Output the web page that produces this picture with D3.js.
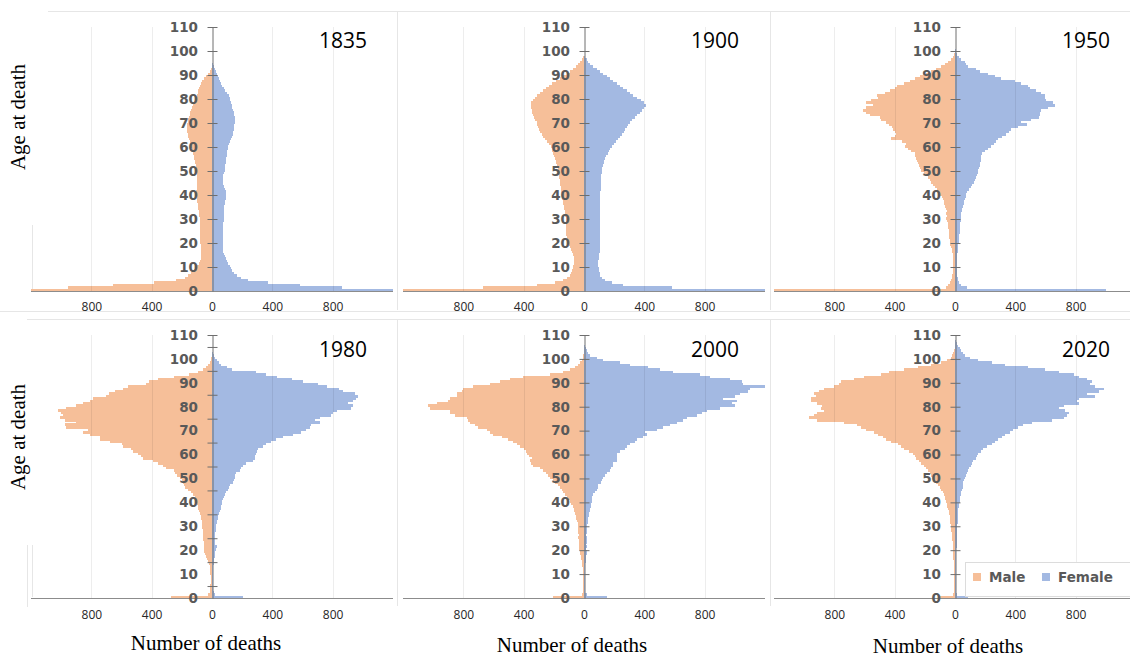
<!DOCTYPE html>
<html>
<head>
<meta charset="utf-8">
<script src="https://cdn.jsdelivr.net/npm/d3@7"></script>
<style>
    body { margin: 0; background: #fff; }
    svg { display: block; }
</style>
</head>
<body>
<div id="chart"></div>
<script>
// Data definition: deaths by single year of age, index = age
const years = ["1835", "1900", "1950", "1980", "2000", "2020"];

const male1835 = [1500,955,656,387,236,181,158,137,122,110,
    100,85,78,74,71,71,72,73,75,76,
    77,78,79,80,81,82,82,82,82,82,
    82,84,86,88,91,93,96,98,100,102,
    104,103,102,100,99,99,99,100,101,102,
    104,106,108,111,114,118,121,125,129,133,
    137,142,147,152,157,161,164,165,165,163,
    160,157,153,148,143,137,131,125,118,111,
    104,100,95,90,85,80,72,63,52,40,
    28,16,8,3];
const female1835 = [1400,864,581,371,239,190,165,148,135,125,
    117,108,99,91,84,79,75,72,70,70,
    71,72,72,73,73,74,75,76,76,77,
    77,77,78,78,79,80,83,87,91,94,
    95,92,87,81,76,73,73,74,76,80,
    84,86,88,90,93,95,97,99,101,103,
    106,112,118,125,131,136,140,144,147,149,
    150,151,150,147,143,139,135,131,126,121,
    117,110,100,89,77,65,58,51,44,37,
    30,24,18,12,7,3];

const male1900 = [1500,667,314,192,140,110,95,85,78,73,
    70,67,66,66,68,72,77,83,90,97,
    104,110,115,118,120,120,119,118,118,119,
    121,123,126,128,131,134,137,140,143,146,
    148,150,152,154,156,159,161,163,166,168,
    170,174,178,183,187,192,197,203,209,215,
    221,232,245,258,270,281,290,298,304,309,
    314,322,330,337,343,347,350,352,350,340,
    325,310,295,275,255,235,210,185,160,138,
    115,95,75,55,38,26,14,6];
const female1900 = [1400,581,261,183,139,117,108,103,100,97,
    95,95,96,97,99,101,103,105,107,108,
    108,108,107,105,104,104,105,106,107,108,
    108,107,106,105,104,104,105,106,107,108,
    108,109,110,111,112,113,114,115,116,117,
    118,121,125,130,135,140,148,156,165,174,
    183,196,209,223,237,250,262,273,284,295,
    305,320,336,352,368,382,396,408,400,378,
    350,328,305,282,260,239,216,194,172,150,
    128,106,84,62,42,28,18,8,3];

const male1950 = [1500,57,45,35,28,22,18,15,13,12,
    11,11,11,12,13,15,18,22,26,30,
    33,35,37,38,40,42,44,46,48,52,
    57,55,58,55,62,68,72,76,80,86,
    102,108,120,132,145,157,168,180,190,205,
    223,232,240,245,250,256,262,268,290,312,
    334,328,350,422,395,389,400,411,418,440,
    455,488,500,566,588,610,588,544,588,555,
    510,520,466,430,400,385,340,300,265,230,
    195,160,125,95,65,45,28,15,8,3];
const female1950 = [1003,82,42,28,22,18,15,13,12,12,
    12,12,13,14,15,16,17,19,21,23,
    24,25,27,28,30,31,33,34,36,37,
    38,40,43,46,49,53,57,60,64,70,
    75,82,92,103,115,126,135,142,148,150,
    152,158,163,168,172,175,172,178,196,218,
    241,258,274,285,310,340,355,373,417,480,
    440,506,555,561,565,572,616,660,649,605,
    594,598,572,539,495,484,440,395,307,263,
    219,163,140,86,75,64,42,25,15,9,
    4];

const male1980 = [270,27,14,12,10,10,9,9,9,9,
    10,10,12,14,18,24,32,40,48,52,
    55,53,52,54,57,60,58,60,62,63,
    64,66,68,72,76,82,86,90,93,98,
    104,110,116,125,137,159,181,185,190,200,
    214,230,247,255,303,325,358,391,457,470,
    490,524,535,590,600,678,745,740,811,855,
    822,966,977,900,977,1010,988,1000,1021,966,
    900,855,811,789,700,680,640,590,560,440,
    420,360,250,150,90,60,40,25,15,8,
    4];
const female1980 = [206,18,10,8,7,7,6,6,6,6,
    6,7,7,8,10,14,16,18,20,22,
    24,30,22,20,18,18,20,22,24,26,
    29,32,35,40,43,46,52,57,62,65,
    69,72,77,86,95,106,110,117,139,145,
    150,155,161,183,190,206,228,272,283,287,
    290,298,305,338,360,393,427,471,537,592,
    625,648,659,714,681,714,791,802,830,920,
    935,900,935,957,968,950,870,840,760,700,
    600,530,430,360,290,130,100,62,45,30,
    18,10,5];

const male2000 = [208,15,9,8,7,7,7,7,7,7,
    8,8,9,10,12,15,18,22,26,28,
    31,30,31,33,35,38,36,38,38,37,
    38,42,49,52,56,60,63,66,75,84,
    93,104,115,126,137,148,160,175,190,208,
    227,240,255,270,290,340,350,355,345,365,
    375,385,400,425,445,470,502,546,601,623,
    645,700,723,756,767,778,855,888,888,1021,
    1033,977,900,888,844,844,811,800,734,623,
    557,491,402,225,137,93,60,38,25,15,
    9,4];
const female2000 = [150,18,8,7,6,6,6,6,6,6,
    6,7,7,8,9,12,14,16,18,17,
    16,18,15,17,20,18,16,22,20,18,
    22,24,26,29,32,35,38,40,44,48,
    51,52,54,62,72,84,90,95,110,118,
    128,138,150,172,180,190,195,216,218,220,
    221,239,272,283,305,338,349,393,415,404,
    482,526,570,614,659,681,747,780,813,901,
    1001,979,1012,923,1001,1034,1089,1100,1250,1056,
    1045,968,835,769,592,504,426,305,239,128,
    84,40,29,18,10,5];

const male2020 = [102,13,7,6,5,5,5,5,5,5,
    5,5,6,6,7,9,10,12,13,14,
    14,15,16,16,18,20,21,23,24,27,
    29,30,31,34,36,40,43,47,50,54,
    58,63,69,74,80,91,102,113,124,136,
    147,158,169,180,193,207,224,236,258,268,
    280,302,336,358,380,424,458,480,513,536,
    591,624,647,736,913,969,936,913,869,891,
    880,913,958,958,924,936,902,869,802,769,
    758,669,602,491,436,336,247,158,91,51,
    29,18,10,5];
const female2020 = [87,16,7,6,5,5,5,5,5,5,
    5,5,5,6,6,7,7,8,8,9,
    9,10,10,11,11,12,12,13,14,15,
    16,17,17,18,19,20,21,23,24,27,
    31,33,35,38,42,47,50,53,56,60,
    64,71,78,84,91,104,112,120,136,144,
    153,170,187,209,242,264,287,309,331,364,
    387,420,453,509,642,720,742,753,731,687,
    720,820,809,820,931,876,953,987,931,898,
    909,876,820,787,687,598,487,331,242,153,
    98,64,53,42,31,20,12,6];

const maleSeries = [male1835, male1900, male1950, male1980, male2000, male2020];
const femaleSeries = [female1835, female1900, female1950, female1980, female2000, female2020];

// Tick labels
const deathTicks = [-800, -400, 0, 400, 800];
const ageTicks = [0, 10, 20, 30, 40, 50, 60, 70, 80, 90, 100, 110];
const ageTickMarks1980 = [5, 15, 25, 35, 45, 55, 65, 75, 85, 95, 105, 110];
const legendLabels = ["Male", "Female"];

function onDOMContentLoaded() {
    // SVG Props
    const width = 1130,
        height = 658;
    const colors = { male: "#F6BF99", female: "#A3B9E2" };
    const columns = [212, 584, 955];
    const rows = [
        { top: 27, bottom: 291, labelY: 307, titleY: 48 },
        { top: 335, bottom: 598, labelY: 615, titleY: 357 }
    ];
    const halfWidth = 181;

    const svg = d3.select("#chart")
        .append("svg")
        .attr("width", width)
        .attr("height", height);

    // faint frame lines of the original composite
    const frame = svg.append("g")
        .attr("stroke", "#e6e6e6")
        .attr("stroke-width", 1);
    [[48, 11.5, 1130, 11.5], [0, 311.5, 1130, 311.5], [27, 319.5, 1130, 319.5],
     [397.5, 12, 397.5, 310], [770.5, 12, 770.5, 310],
     [397.5, 320, 397.5, 606], [770.5, 320, 770.5, 606],
     [32.5, 225, 32.5, 290], [27.5, 545, 27.5, 607], [32.5, 545, 32.5, 597]]
        .forEach(l => frame.append("line")
            .attr("x1", l[0]).attr("y1", l[1]).attr("x2", l[2]).attr("y2", l[3]));

    years.forEach((year, i) => {
        const cx = columns[i % 3];
        const row = rows[Math.floor(i / 3)];

        const xScale = d3.scaleLinear()
            .domain([-1200, 1200])
            .range([cx - halfWidth, cx + halfWidth]);
        const yScale = d3.scaleLinear()
            .domain([0, 110])
            .range([row.bottom, row.top]);

        const panel = svg.append("g").attr("class", "panel");

        svg.append("clipPath")
            .attr("id", "clip" + i)
            .append("rect")
            .attr("x", xScale.range()[0])
            .attr("y", row.top - 5)
            .attr("width", xScale.range()[1] - xScale.range()[0])
            .attr("height", row.bottom - row.top + 5);

        const bars = panel.append("g")
            .attr("clip-path", `url(#clip${i})`)
            .attr("shape-rendering", "crispEdges");

        const male = maleSeries[i].map((v, age) => ({ age, v }));
        const female = femaleSeries[i].map((v, age) => ({ age, v }));

        bars.selectAll("rect.male")
            .data(male)
            .join("rect")
            .attr("class", "male")
            .attr("x", d => xScale(-d.v))
            .attr("width", d => xScale(0) - xScale(-d.v))
            .attr("y", d => yScale(d.age + 1))
            .attr("height", d => yScale(d.age) - yScale(d.age + 1) + 0.5)
            .attr("fill", colors.male);

        bars.selectAll("rect.female")
            .data(female)
            .join("rect")
            .attr("class", "female")
            .attr("x", xScale(0))
            .attr("width", d => xScale(d.v) - xScale(0))
            .attr("y", d => yScale(d.age + 1))
            .attr("height", d => yScale(d.age) - yScale(d.age + 1) + 0.5)
            .attr("fill", colors.female);

        // vertical gridlines
        panel.append("g")
            .selectAll("line")
            .data(deathTicks.filter(t => t !== 0))
            .join("line")
            .attr("x1", d => Math.round(xScale(d)) + 0.5)
            .attr("x2", d => Math.round(xScale(d)) + 0.5)
            .attr("y1", row.top)
            .attr("y2", row.bottom)
            .attr("stroke", "#000")
            .attr("stroke-opacity", 0.07);

        // x axis
        const xAxis = d3.axisBottom(xScale)
            .tickValues(deathTicks)
            .tickFormat(d => Math.abs(d))
            .tickSize(0)
            .tickPadding(0);
        const gx = panel.append("g")
            .attr("transform", `translate(0, ${row.labelY})`)
            .call(xAxis);
        gx.select(".domain").remove();
        gx.selectAll("text")
            .attr("dy", "0.35em")
            .attr("font-family", "'Open Sans', sans-serif")
            .attr("font-size", 12)
            .attr("fill", "#262626");

        panel.append("line")
            .attr("x1", xScale.range()[0])
            .attr("x2", xScale.range()[1])
            .attr("y1", row.bottom + 0.5)
            .attr("y2", row.bottom + 0.5)
            .attr("stroke", "#8c8c8c")
            .attr("stroke-width", 1.2);

        // y axis: labels
        const yLabels = d3.axisLeft(yScale)
            .tickValues(ageTicks)
            .tickSize(0)
            .tickPadding(14);
        const gy = panel.append("g")
            .attr("transform", `translate(${cx}, 0)`)
            .call(yLabels);
        gy.select(".domain").remove();
        gy.selectAll("text")
            .attr("font-family", "'DejaVu Sans', sans-serif")
            .attr("font-weight", "bold")
            .attr("font-size", 13.5)
            .attr("fill", "#595959");

        // y axis: line and crossing ticks
        const yMarks = d3.axisLeft(yScale)
            .tickValues(i === 3 ? ageTickMarks1980 : ageTicks.filter(t => t > 0))
            .tickSizeInner(5)
            .tickSizeOuter(0)
            .tickFormat("");
        const gm = panel.append("g")
            .attr("transform", `translate(${Math.round(cx) + 0.5}, 0)`)
            .call(yMarks);
        gm.select(".domain").attr("stroke", "#6e6e6e");
        gm.selectAll(".tick line")
            .attr("x1", 5)
            .attr("stroke", "#6e6e6e");

        // year title
        panel.append("text")
            .attr("x", cx + 155)
            .attr("y", row.titleY)
            .attr("text-anchor", "end")
            .attr("font-family", "'Open Sans', sans-serif")
            .attr("font-size", 21)
            .attr("fill", "#000")
            .text(year);
    });

    // axis titles
    const serif = "'Liberation Serif', 'Times New Roman', serif";
    [117, 437].forEach(cy => {
        svg.append("text")
            .attr("transform", `translate(25, ${cy}) rotate(-90)`)
            .attr("text-anchor", "middle")
            .attr("font-family", serif)
            .attr("font-size", 21)
            .attr("fill", "#000")
            .text("Age at death");
    });
    [[206, 650], [572, 652], [948, 653]].forEach(p => {
        svg.append("text")
            .attr("x", p[0])
            .attr("y", p[1])
            .attr("text-anchor", "middle")
            .attr("font-family", serif)
            .attr("font-size", 21)
            .attr("fill", "#000")
            .text("Number of deaths");
    });

    // legend
    const legend = svg.append("g");
    legend.append("rect")
        .attr("x", 965.5)
        .attr("y", 562.5)
        .attr("width", 170)
        .attr("height", 34)
        .attr("fill", "#fff")
        .attr("stroke", "#dcdcdc");
    const legendX = [973, 1042];
    legendLabels.forEach((label, k) => {
        legend.append("rect")
            .attr("x", legendX[k])
            .attr("y", 573)
            .attr("width", 8)
            .attr("height", 8)
            .attr("fill", k === 0 ? colors.male : colors.female);
        legend.append("text")
            .attr("x", legendX[k] + 16)
            .attr("y", 577)
            .attr("dy", "0.35em")
            .attr("font-family", "'DejaVu Sans', sans-serif")
            .attr("font-weight", "bold")
            .attr("font-size", 13.5)
            .attr("fill", "#595959")
            .text(label);
    });
}

document.addEventListener("DOMContentLoaded", onDOMContentLoaded);
</script>
</body>
</html>
